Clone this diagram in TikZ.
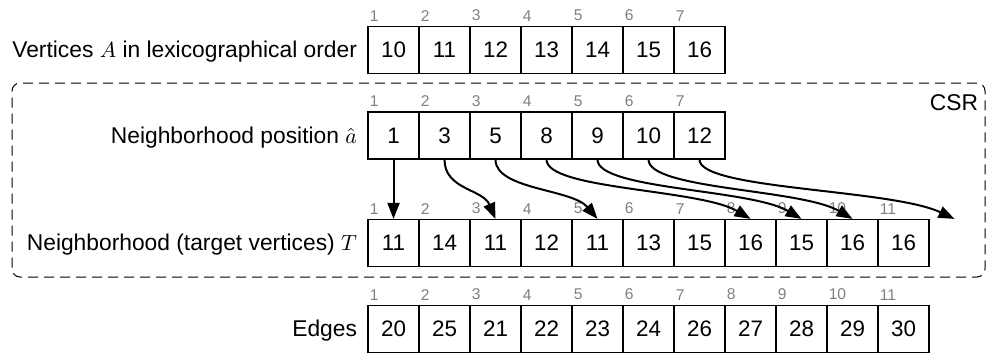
\documentclass[tikz,border=0pt]{standalone}
\usepackage{fontspec}
\setmainfont{Liberation Sans}
\usetikzlibrary{positioning,arrows.meta}

\definecolor{idxgray}{gray}{0.5}

\begin{document}
\begin{tikzpicture}[x=1pt, y=1pt,
    cell/.style={draw, shape=rectangle, line width=0.6pt,
      minimum width=25.5pt, minimum height=23.5pt, inner sep=0pt,
      font=\fontsize{11.2}{13}\selectfont},
    idx/.style={anchor=south west, inner sep=0pt, text=idxgray,
      font=\fontsize{7.8}{9}\selectfont, xshift=1pt, yshift=2.2pt},
    rowlabel/.style={inner sep=0pt, font=\fontsize{11.4}{13}\selectfont},
    link/.style={-{Triangle[length=8pt, width=6pt]}, line width=1pt}]
  \useasboundingbox (0,0) rectangle (495.5,-177);

  % vertices
  \foreach \v [count=\i] in {10,11,12,13,14,15,16} {
    \node (a\i) [cell] at (171.25+25.5*\i, -25) {\v};
    \node (ai\i) [idx] at (a\i.north west) {\i};
  }
  \node (alabel) [rowlabel, base left=5pt of a1] {Vertices $A$ in lexicographical order};

  % CSR frame
  \node (csr) [draw, dash pattern=on 5pt off 3pt, line width=0.5pt,
    rounded corners=4pt, minimum width=486.5pt, minimum height=97pt]
    at (249.25,-90) {};
  \node (csrlabel) [anchor=north east, inner sep=0pt, font=\fontsize{11.4}{13}\selectfont]
    at ([xshift=-3.5pt, yshift=-5.75pt]csr.north east) {CSR};

  % neighborhood positions
  \foreach \v [count=\i] in {1,3,5,8,9,10,12} {
    \node (p\i) [cell] at (171.25+25.5*\i, -67.75) {\v};
    \node (pi\i) [idx] at (p\i.north west) {\i};
  }
  \node (plabel) [rowlabel, base left=5pt of p1] {Neighborhood position $\hat{a}$};

  % target vertices
  \foreach \v [count=\i] in {11,14,11,12,11,13,15,16,15,16,16} {
    \node (t\i) [cell] at (171.25+25.5*\i, -121.5) {\v};
    \node (ti\i) [idx] at (t\i.north west) {\i};
    \coordinate (tip\i) at (t\i.north);
  }
  \coordinate (tip12) at ([xshift=25.5pt]t11.north);
  \node (tlabel) [rowlabel, base left=5pt of t1] {Neighborhood (target vertices) $T$};

  % edges
  \foreach \v [count=\i] in {20,25,21,22,23,24,26,27,28,29,30} {
    \node (e\i) [cell] at (171.25+25.5*\i, -164.5) {\v};
    \node (ei\i) [idx] at (e\i.north west) {\i};
  }
  \node (elabel) [rowlabel, base left=5pt of e1] {Edges};

  % positions point into T
  \draw[link] (p1.south) -- (tip1);
  \foreach \i/\j in {2/3, 3/5, 4/8, 5/9, 6/10, 7/12}
    \draw[link] (p\i.south) .. controls +(0,-15) and +({-6.375*(\j-\i)},15) .. (tip\j);
\end{tikzpicture}
\end{document}
